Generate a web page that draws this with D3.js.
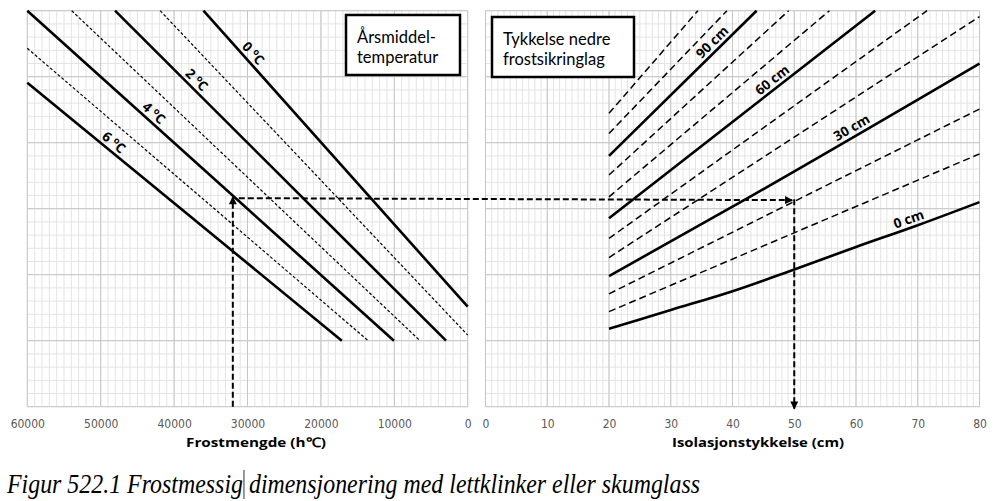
<!DOCTYPE html>
<html>
<head>
<meta charset="utf-8">
<script src="https://cdn.jsdelivr.net/npm/d3@7"></script>
<style>
  body { margin: 0; background: #fff; }
  svg { display: block; }
</style>
</head>
<body>
<div id="chart"></div>
<script>
// left panel: frost amount (h°C) against annual mean temperature
const tempNames = ["0", "1", "2", "3", "4", "5", "6"];
const tempF = [[36000, 0], [41900, 0], [48050, 2950], [53950, 6500], [60000, 10050], [60000, 13550], [60000, 17150]];
const tempY = [[60, 15.15], [60, 10.85], [60, 10], [60, 10], [60, 10], [54.3, 10], [49.1, 10]];
const tempLabelF = [30100, null, 37750, null, 43550, null, 48950];

// right panel: insulation thickness against lower frost protection layer
const isoNames = ["0", "10", "20", "30", "40", "50", "60", "70", "80", "90", "100", "110"];
const isoX = [[20, 30, 40, 50, 60, 70, 80], [20, 80], [20, 80], [20, 40, 80], [20, 80], [20, 71.5],
              [20, 63.1], [20, 55.7], [20, 49.1], [20, 43.9], [20, 39.1], [20, 34.4]];
const isoY = [[11.8, 14.65, 17.5, 20.8, 24.2, 27.5, 31.0], [14.4, 38.3], [17.1, 45.1], [19.8, 30.3, 52.0],
              [22.6, 59.1], [25.5, 60], [28.55, 60], [31.8, 60], [35.1, 60], [38.0, 60], [41.4, 60], [44.45, 60]];
const isoLabelX = [69, null, null, 60, null, null, 47.3, null, null, 37.7, null, null];

const frostTicks = [60000, 50000, 40000, 30000, 20000, 10000, 0];
const isoTicks = [0, 10, 20, 30, 40, 50, 60, 70, 80];

// worked example: 32000 h°C, 4 °C -> 50 cm
const exFrost = 32000;
const exLevel = 31.6;
const exIso = 50;

const W = 994, H = 501;
const svg = d3.select("#chart").append("svg")
  .attr("width", W)
  .attr("height", H)
  .style("font-family", "'Liberation Sans Narrow', 'DejaVu Sans Condensed', sans-serif");

svg.append("rect").attr("width", W).attr("height", H).attr("fill", "#fff");

const xL = d3.scaleLinear().domain([60000, 0]).range([27.3, 467.7]);
const xR = d3.scaleLinear().domain([0, 80]).range([485.5, 979.5]);
const yS = d3.scaleLinear().domain([0, 60]).range([406.7, 10.7]);

const defs = svg.append("defs");
defs.append("marker")
  .attr("id", "head")
  .attr("viewBox", "0 0 10 10")
  .attr("refX", 9).attr("refY", 5)
  .attr("markerUnits", "userSpaceOnUse")
  .attr("markerWidth", 9).attr("markerHeight", 8)
  .attr("orient", "auto")
  .append("path").attr("d", "M0,0L10,5L0,10Z").attr("fill", "#000");

function grid(x, minorStep, majorStep, dom) {
  const g = svg.append("g");
  const y0 = yS(0), y1 = yS(60);
  const xa = x.range();
  const xmin = d3.min(xa), xmax = d3.max(xa);
  // minor
  g.selectAll(".vmin").data(d3.range(dom[0], dom[1] + 1e-9, minorStep)).enter().append("line")
    .attr("x1", d => x(d)).attr("x2", d => x(d)).attr("y1", y0).attr("y2", y1)
    .attr("stroke", "#e4e4e4").attr("stroke-width", 1);
  g.selectAll(".hmin").data(d3.range(0, 60.001, 2)).enter().append("line")
    .attr("x1", xmin).attr("x2", xmax).attr("y1", d => yS(d)).attr("y2", d => yS(d))
    .attr("stroke", "#e4e4e4").attr("stroke-width", 1);
  // major
  g.selectAll(".vmaj").data(d3.range(dom[0], dom[1] + 1e-9, majorStep)).enter().append("line")
    .attr("x1", d => x(d)).attr("x2", d => x(d)).attr("y1", y0).attr("y2", y1)
    .attr("stroke", "#c6c6c6").attr("stroke-width", 1);
  g.selectAll(".hmaj").data(d3.range(0, 60.001, 10)).enter().append("line")
    .attr("x1", xmin).attr("x2", xmax).attr("y1", d => yS(d)).attr("y2", d => yS(d))
    .attr("stroke", "#c6c6c6").attr("stroke-width", 1);
}
grid(xL, 1000, 10000, [0, 60000]);
grid(xR, 1, 10, [0, 80]);

// tick labels
function tickAxis(x, ticks) {
  const ax = svg.append("g")
    .attr("transform", `translate(0,${yS(0) + 10})`)
    .call(d3.axisBottom(x).tickValues(ticks).tickSize(0).tickFormat(d3.format("d")));
  ax.select(".domain").remove();
  ax.selectAll("text")
    .attr("fill", "#595959")
    .style("font-size", "12px")
    .style("font-family", "'Liberation Sans Narrow', 'DejaVu Sans Condensed', sans-serif");
}
tickAxis(xL, frostTicks);
tickAxis(xR, isoTicks);

// axis titles
svg.append("text").attr("x", 256).attr("y", 447).attr("text-anchor", "middle")
  .style("font-family", "'Open Sans', sans-serif").style("font-weight", "bold").style("font-size", "13px")
  .attr("textLength", 140).attr("lengthAdjust", "spacingAndGlyphs")
  .text("Frostmengde (h℃)");
svg.append("text").attr("x", 758).attr("y", 447).attr("text-anchor", "middle")
  .style("font-family", "'Open Sans', sans-serif").style("font-weight", "bold").style("font-size", "13px")
  .attr("textLength", 172).attr("lengthAdjust", "spacingAndGlyphs")
  .text("Isolasjonstykkelse (cm)");

// curves
const lineL = d3.line().x(d => xL(d[0])).y(d => yS(d[1]));
const lineR = d3.line().x(d => xR(d[0])).y(d => yS(d[1])).curve(d3.curveMonotoneX);

tempNames.forEach((t, i) => {
  const pts = tempF[i].map((f, j) => [f, tempY[i][j]]);
  const solid = i % 2 === 0;
  svg.append("path").attr("d", lineL(pts))
    .attr("fill", "none").attr("stroke", "#000")
    .attr("stroke-width", solid ? 2.6 : 1.2)
    .attr("stroke-dasharray", solid ? null : "3,2");
});

isoNames.forEach((t, i) => {
  const pts = isoX[i].map((x, j) => [x, isoY[i][j]]);
  const solid = i % 3 === 0;
  svg.append("path").attr("d", lineR(pts))
    .attr("fill", "none").attr("stroke", "#000")
    .attr("stroke-width", solid ? 2.6 : 1.5)
    .attr("stroke-dasharray", solid ? null : "7,4");
});

// labels along curves
function placeLabel(px, xs, ys, v) {
  for (let j = 0; j < xs.length - 1; j++) {
    const a = xs[j], b = xs[j + 1];
    if ((v - a) * (v - b) <= 0) {
      const t = (v - a) / (b - a);
      const yv = ys[j] + t * (ys[j + 1] - ys[j]);
      let p0 = [px(a), yS(ys[j])], p1 = [px(b), yS(ys[j + 1])];
      if (p1[0] < p0[0]) [p0, p1] = [p1, p0];
      const ang = Math.atan2(p1[1] - p0[1], p1[0] - p0[0]) * 180 / Math.PI;
      return { x: px(v), y: yS(yv), ang };
    }
  }
  return null;
}

const lblFont = "'Open Sans', sans-serif";
tempNames.forEach((t, i) => {
  if (tempLabelF[i] === null) return;
  const p = placeLabel(xL, tempF[i], tempY[i], tempLabelF[i]);
  const txt = svg.append("text")
    .attr("transform", `translate(${p.x},${p.y}) rotate(${p.ang})`)
    .attr("text-anchor", "middle").attr("dy", -4)
    .style("font-family", lblFont).style("font-weight", "bold").style("font-size", "13.5px");
  txt.append("tspan").text(t + " ");
  txt.append("tspan").attr("dy", -5).style("font-size", "9px").text("o");
  txt.append("tspan").attr("dy", 5).text("C");
});

isoNames.forEach((t, i) => {
  if (isoLabelX[i] === null) return;
  const p = placeLabel(xR, isoX[i], isoY[i], isoLabelX[i]);
  svg.append("text")
    .attr("transform", `translate(${p.x},${p.y}) rotate(${p.ang})`)
    .attr("text-anchor", "middle").attr("dy", -4)
    .style("font-family", lblFont).style("font-weight", "bold").style("font-size", "13.5px")
    .text(t + " cm");
});

// worked example arrows
const ex = svg.append("g").attr("fill", "none").attr("stroke", "#000")
  .attr("stroke-width", 2).attr("stroke-dasharray", "6,3");
ex.append("line")
  .attr("x1", xL(exFrost)).attr("y1", yS(0)).attr("x2", xL(exFrost)).attr("y2", yS(exLevel) - 1)
  .attr("marker-end", "url(#head)");
ex.append("line")
  .attr("x1", xL(exFrost) + 6).attr("y1", yS(exLevel)).attr("x2", xR(exIso) - 2).attr("y2", yS(exLevel) + 2)
  .attr("marker-end", "url(#head)");
ex.append("line")
  .attr("x1", xR(exIso)).attr("y1", yS(exLevel) + 1).attr("x2", xR(exIso)).attr("y2", yS(0) + 2)
  .attr("marker-end", "url(#head)");

// boxed captions
function box(x, y, w, h, lines) {
  svg.append("rect").attr("x", x).attr("y", y).attr("width", w).attr("height", h)
    .attr("fill", "#fff").attr("stroke", "#000").attr("stroke-width", 2.5);
  lines.forEach((s, k) => {
    svg.append("text").attr("x", x + 11).attr("y", y + 28 + k * 20)
      .style("font-family", "Lato, sans-serif").style("font-size", "16.5px")
      .text(s);
  });
}
box(346, 15, 114, 60, ["Årsmiddel-", "temperatur"]);
box(492, 17, 142, 60, ["Tykkelse nedre", "frostsikringlag"]);

// figure caption, the stray cursor bar drawn after "Frostmessig"
const cap = svg.append("text").attr("x", 7).attr("y", 493)
  .attr("textLength", 693).attr("lengthAdjust", "spacingAndGlyphs")
  .style("font-family", "'Liberation Serif', serif").style("font-style", "italic").style("font-size", "27px")
  .text("Figur 522.1 Frostmessig dimensjonering med lettklinker eller skumglass");
const barX = cap.node().getStartPositionOfChar(23).x + 1;
svg.append("line").attr("x1", barX).attr("x2", barX).attr("y1", 470).attr("y2", 499)
  .attr("stroke", "#000").attr("stroke-width", 0.8);
</script>
</body>
</html>
